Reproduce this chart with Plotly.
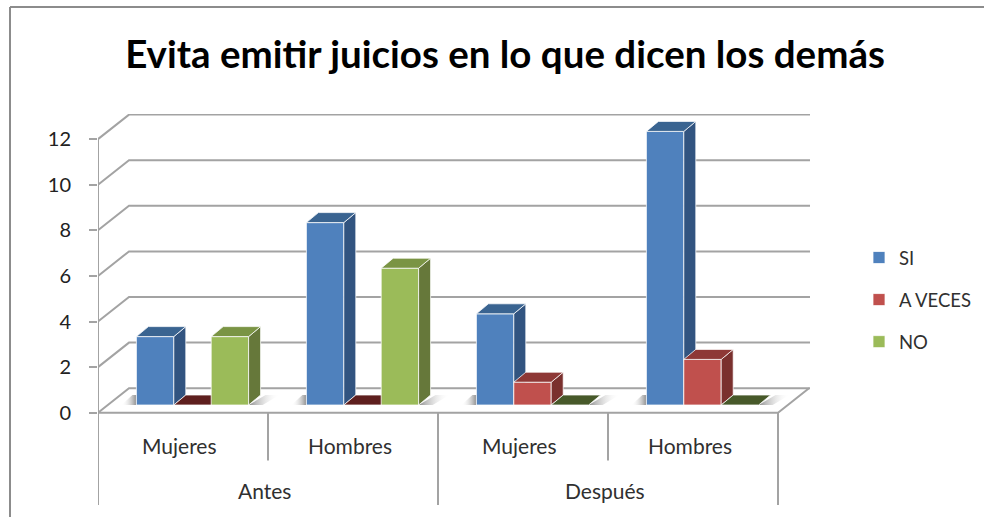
import plotly.graph_objects as go

TITLE = "Evita emitir juicios en lo que dicen los demás"
subcats = ["Mujeres", "Hombres", "Mujeres", "Hombres"]
groups = ["Antes", "Después"]
series_names = ["SI", "A VECES", "NO"]
si = [3, 8, 4, 12]
a_veces = [0, 0, 1, 2]
no = [3, 6, 0, 0]
y_ticks = [0, 2, 4, 6, 8, 10, 12]

front_colors = ["#4F81BD", "#C0504D", "#9BBB59"]
top_colors = ["#3A6491", "#8E3836", "#7A9444"]
side_colors = ["#325480", "#7A302E", "#66783A"]
zero_colors = ["#2A4468", "#5E1F1E", "#47592A"]

FONT = "Lato"
W, H = 984, 517
PX_X = 170.0
PX_Y = 22.8
X0, Y0 = 98.0, 412.7
XMAX_PX, YTOP_PX = 810.0, 114.0
xmax = (XMAX_PX - X0) / PX_X
ymax = (Y0 - YTOP_PX) / PX_Y
ymin = -(H - Y0) / PX_Y
WALL_DX = 31 / PX_X
WALL_DY = 24.5 / PX_Y
BAR_W = 37.4 / PX_X
BAR_DX = 12 / PX_X
BAR_DY = 10 / PX_Y
FLOOR_X = 9.5 / PX_X
FLOOR_Y = 7.7 / PX_Y
GRID = "#A3A3A3"

fig = go.Figure()


def line(xs, ys, color=GRID, width=2, sub=("x", "y")):
    fig.add_trace(go.Scatter(x=xs, y=ys, mode="lines", line=dict(color=color, width=width),
                             cliponaxis=False, showlegend=False, hoverinfo="skip",
                             xaxis=sub[0], yaxis=sub[1]))


def poly(xs, ys, color, sub, edge="rgba(255,255,255,0.75)"):
    fig.add_trace(go.Scatter(x=xs + xs[:1], y=ys + ys[:1], mode="lines", fill="toself", fillcolor=color,
                             line=dict(color=edge, width=1), cliponaxis=False, showlegend=False,
                             hoverinfo="skip", xaxis=sub[0], yaxis=sub[1]))


def shadow(xs, ys, to_right):
    stops = [[0, "rgba(120,120,120,0.85)"], [1, "rgba(255,255,255,0)"]]
    if not to_right:
        stops = [[0, "rgba(255,255,255,0)"], [1, "rgba(120,120,120,0.85)"]]
    fig.add_trace(go.Scatter(x=xs + xs[:1], y=ys + ys[:1], mode="lines", fill="toself",
                             fillgradient=dict(type="horizontal", colorscale=stops),
                             line=dict(width=0), cliponaxis=False, showlegend=False, hoverinfo="skip"))


# walls, floor and gridlines
for v in y_ticks:
    line([0, WALL_DX, xmax], [v, v + WALL_DY, v + WALL_DY])
line([0, 0], [-4.05, 12])
line([0, 4, 4 + WALL_DX], [0, 0, WALL_DY])
for i, depth in zip(range(5), [-4.05, -2.1, -4.05, -2.1, -4.05]):
    line([i, i], [0, depth])

# floor shadows
for i in range(4):
    left = i + 0.5 + FLOOR_X - 1.5 * BAR_W
    right = left + 3 * BAR_W
    shadow([left - 15 / PX_X, left, left, left - 4 / PX_X],
           [FLOOR_Y, FLOOR_Y, FLOOR_Y + BAR_DY, FLOOR_Y + BAR_DY], False)
    shadow([right, right + 14 / PX_X, right + 31 / PX_X, right + 17 / PX_X],
           [FLOOR_Y, FLOOR_Y, FLOOR_Y + BAR_DY, FLOOR_Y + BAR_DY], True)

# one overlaid subplot per series, so later series hide the sides of earlier ones
series = [si, a_veces, no]
subs = [("x2", "y2"), ("x3", "y3"), ("x4", "y4")]
for s, (name, vals, sub) in enumerate(zip(series_names, series, subs)):
    centers = [i + 0.5 + FLOOR_X + (s - 1) * BAR_W for i in range(4)]
    fig.add_trace(go.Bar(x=centers, y=vals, base=[FLOOR_Y] * 4, width=BAR_W, name=name,
                         legendgroup=name, marker=dict(color=front_colors[s],
                         line=dict(color="rgba(255,255,255,0.75)", width=1)),
                         xaxis=sub[0], yaxis=sub[1], hovertemplate=name + ": %{y}<extra></extra>"))
    for c, v in zip(centers, vals):
        xl, xr = c - BAR_W / 2, c + BAR_W / 2
        yt = FLOOR_Y + v
        if v > 0:
            poly([xr, xr + BAR_DX, xr + BAR_DX, xr], [FLOOR_Y, FLOOR_Y + BAR_DY, yt + BAR_DY, yt],
                 side_colors[s], sub)
        poly([xl, xr, xr + BAR_DX, xl + BAR_DX], [yt, yt, yt + BAR_DY, yt + BAR_DY],
             top_colors[s] if v > 0 else zero_colors[s], sub)

# category labels
for i, label in enumerate(subcats):
    fig.add_annotation(x=i + 0.5 - 0.02, y=-1.42, text=label, showarrow=False,
                       font=dict(family=FONT, size=21, color="#303030"))
for i, label in enumerate(groups):
    fig.add_annotation(x=2 * i + 1 - 0.02, y=-3.4, text=label, showarrow=False,
                       font=dict(family=FONT, size=21, color="#303030"))

dom_x = [X0 / W, XMAX_PX / W]
dom_y = [0, (H - YTOP_PX) / H]
hidden = dict(visible=False, fixedrange=True)
overlays = {}
for n in (2, 3, 4):
    overlays[f"xaxis{n}"] = dict(domain=dom_x, range=[0, xmax], overlaying="x", **hidden)
    overlays[f"yaxis{n}"] = dict(domain=dom_y, range=[ymin, ymax], overlaying="y", **hidden)
fig.update_layout(
    width=W, height=H, margin=dict(l=0, r=0, t=0, b=0),
    paper_bgcolor="white", plot_bgcolor="rgba(0,0,0,0)", barmode="overlay",
    title=dict(text="<b>" + TITLE + "</b>", x=505 / W, xanchor="center", y=1 - 55 / H, yanchor="middle",
               font=dict(family=FONT, size=38.5, color="black")),
    xaxis=dict(domain=dom_x, range=[0, xmax], visible=False, fixedrange=True),
    yaxis=dict(domain=dom_y, range=[ymin, ymax], tickvals=y_ticks, ticks="outside", ticklen=8, tickwidth=2,
               tickcolor=GRID, showgrid=False, showline=False, zeroline=False, ticklabelstandoff=14,
               tickfont=dict(family=FONT, size=20, color="#222222"), fixedrange=True),
    legend=dict(x=859 / W, xanchor="left", y=1 - 239 / H, yanchor="top", tracegroupgap=15,
                font=dict(family=FONT, size=18.5, color="#303030"), bgcolor="rgba(0,0,0,0)"),
    shapes=[
        dict(type="line", xref="paper", yref="paper", x0=10 / W, x1=10 / W, y0=0, y1=1 - 7 / H,
             line=dict(color="#8C8C8C", width=2)),
        dict(type="line", xref="paper", yref="paper", x0=10 / W, x1=1, y0=1 - 7 / H, y1=1 - 7 / H,
             line=dict(color="#8C8C8C", width=2)),
    ],
    **overlays,
)
fig.write_html("out.html", config={"displayModeBar": False}, post_script="document.body.style.margin='0';")
